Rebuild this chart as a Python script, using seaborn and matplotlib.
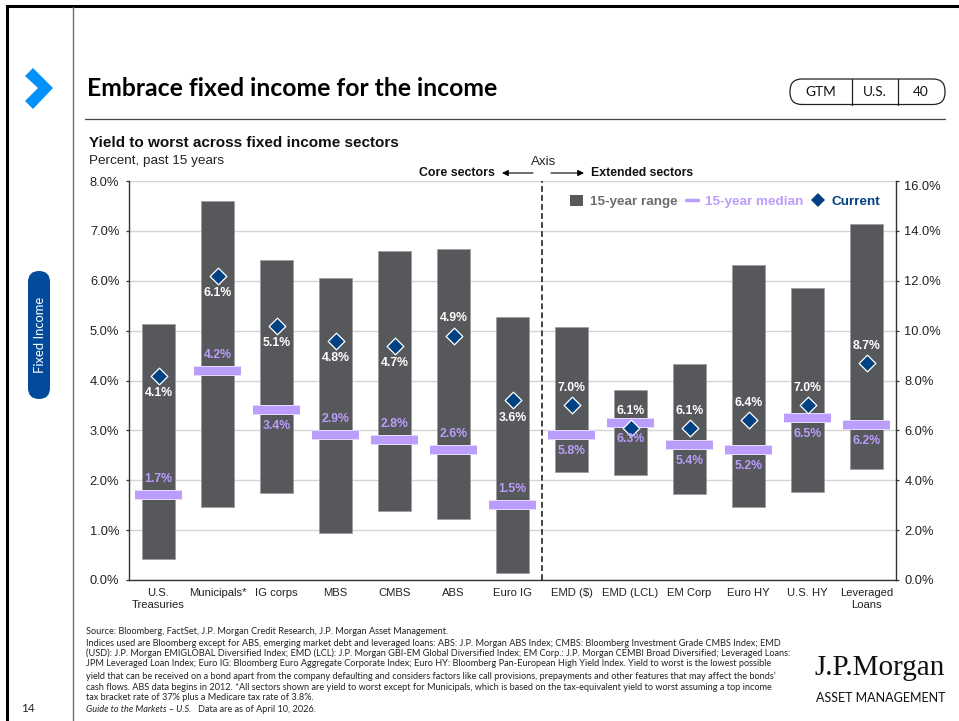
import matplotlib
matplotlib.use("Agg")
import matplotlib.pyplot as plt
import matplotlib.patheffects as pe
from matplotlib.lines import Line2D
from matplotlib.patches import FancyBboxPatch, Patch, Polygon
import numpy as np
import pandas as pd
import seaborn as sns

# Sectors, split by which y axis they are read against
core_sectors = ["U.S.\nTreasuries", "Municipals*", "IG corps", "MBS", "CMBS", "ABS", "Euro IG"]
extended_sectors = ["EMD ($)", "EMD (LCL)", "EM Corp", "Euro HY", "U.S. HY", "Leveraged\nLoans"]

# 15-year yield ranges, percent
core_low = [0.42, 1.46, 1.74, 0.94, 1.38, 1.22, 0.14]
core_high = [5.13, 7.60, 6.41, 6.05, 6.59, 6.63, 5.27]
extended_low = [4.33, 4.20, 3.45, 2.93, 3.53, 4.45]
extended_high = [10.14, 7.60, 8.66, 12.63, 11.70, 14.27]

# Medians and latest readings, percent
core_median = [1.7, 4.2, 3.4, 2.9, 2.8, 2.6, 1.5]
core_current = [4.1, 6.1, 5.1, 4.8, 4.7, 4.9, 3.6]
extended_median = [5.8, 6.3, 5.4, 5.2, 6.5, 6.2]
extended_current = [7.0, 6.1, 6.1, 6.4, 7.0, 8.7]

footnotes = [
    "Source: Bloomberg, FactSet, J.P. Morgan Credit Research, J.P. Morgan Asset Management.",
    "Indices used are Bloomberg except for ABS, emerging market debt and leveraged loans: ABS: J.P. Morgan ABS Index; CMBS: Bloomberg Investment Grade CMBS Index; EMD",
    "(USD): J.P. Morgan EMIGLOBAL Diversified Index; EMD (LCL): J.P. Morgan GBI-EM Global Diversified Index; EM Corp.: J.P. Morgan CEMBI Broad Diversified; Leveraged Loans:",
    "JPM Leveraged Loan Index; Euro IG: Bloomberg Euro Aggregate Corporate Index; Euro HY: Bloomberg Pan-European High Yield Index. Yield to worst is the lowest possible",
    "yield that can be received on a bond apart from the company defaulting and considers factors like call provisions, prepayments and other features that may affect the bonds’",
    "cash flows. ABS data begins in 2012. *All sectors shown are yield to worst except for Municipals, which is based on the tax-equivalent yield to worst assuming a top income",
    "tax bracket rate of 37% plus a Medicare tax rate of 3.8%.",
]

W, H = 959, 721
BAR = "#56585b"
LILAC = "#bb9dfc"
NAVY = "#004184"
GRID = "#d4d4d4"
BLUE = "#0091fa"
ARIAL = "Liberation Sans"
CALIBRI = "Lato"

sns.set_theme(style="white", rc={"axes.grid": False})
plt.rcParams["font.family"] = [ARIAL, "DejaVu Sans"]

fig = plt.figure(figsize=(W / 100, H / 100), dpi=100)
fig.patch.set_facecolor("white")

# Full-page layer measured in pixels for the slide furniture
page = fig.add_axes([0, 0, 1, 1], zorder=0)
page.set_xlim(0, W)
page.set_ylim(H, 0)
page.axis("off")

page.plot([7, 7, W], [H, 6, 6], color="black", lw=2.2, solid_joinstyle="miter")
page.plot([72.5, 72.5], [7, H], color="#6e6e6e", lw=1.0)
page.plot([85, 945], [118.5, 118.5], color="#444444", lw=0.9)
page.add_patch(Polygon([(25, 76), (33, 68), (53, 88), (33, 109), (25, 101), (38, 88)],
                       closed=True, fc=BLUE, ec="none"))
page.add_patch(FancyBboxPatch((28, 271), 22, 128, boxstyle="round,pad=0,rounding_size=11",
                              fc="#024a9b", ec="none"))
page.text(39.5, 335, "Fixed Income", color="white", rotation=90, ha="center", va="center",
          family=CALIBRI, fontsize=9.4)
page.text(28, 709, "14", ha="center", va="center", family=CALIBRI, fontsize=8.6, color="#222222")

page.text(87, 88, "Embrace fixed income for the income", family=CALIBRI, weight="bold",
          fontsize=17.8, va="center", color="black")

# Rounded page tag
page.add_patch(FancyBboxPatch((790, 79), 155, 25.5, boxstyle="round,pad=0,rounding_size=12",
                              fc="white", ec="#222222", lw=0.9))
for divider in (852, 898):
    page.plot([divider, divider], [79, 104.5], color="#222222", lw=0.9)
for x, label in ((821, "GTM"), (875, "U.S."), (921, "40")):
    page.text(x, 92, label, ha="center", va="center", family=CALIBRI, fontsize=9.8, color="#111111")

page.text(89, 143, "Yield to worst across fixed income sectors", weight="bold", fontsize=10.95,
          va="center", color="#111111")
page.text(89, 161, "Percent, past 15 years", fontsize=9.7, va="center", color="#222222")

page.text(544, 162, "Axis", ha="center", va="center", fontsize=9.6, color="#222222")
page.text(495, 172.5, "Core sectors", ha="right", va="center", weight="bold", fontsize=8.9, color="#111111")
page.text(591, 172.5, "Extended sectors", ha="left", va="center", weight="bold", fontsize=8.8, color="#111111")
for start, end in ((533, 502), (551, 584)):
    page.annotate("", xy=(end, 173), xytext=(start, 173),
                  arrowprops=dict(arrowstyle="-|>", color="black", lw=0.8, mutation_scale=9,
                                  shrinkA=0, shrinkB=0))

for i, line in enumerate(footnotes):
    page.text(86, [631, 643, 653, 664, 676, 687, 698][i], line, family=CALIBRI, fontsize=6.62,
              va="center", color="#222222")
page.text(86, 710, "Guide to the Markets – U.S.", family=CALIBRI, fontsize=6.62, style="italic",
          va="center", color="#222222")
page.text(198, 710, "Data are as of April 10, 2026.", family=CALIBRI, fontsize=6.62,
          va="center", color="#222222")

page.text(945, 668, "J.P.Morgan", ha="right", va="center", family="Liberation Serif", fontsize=21,
          color="#111111")
page.text(945, 698, "ASSET MANAGEMENT", ha="right", va="center", family=CALIBRI, fontsize=9.0,
          color="#111111")

# Chart area with the two y scales
ax = fig.add_axes([129 / W, 1 - 580 / H, 767 / W, 399 / H], zorder=2)
ax.patch.set_alpha(0)
ax2 = ax.twinx()
ax2.patch.set_alpha(0)

order = core_sectors + extended_sectors
core = pd.DataFrame({"sector": core_sectors, "low": core_low, "high": core_high,
                     "median": core_median, "current": core_current})
extended = pd.DataFrame({"sector": extended_sectors, "low": extended_low, "high": extended_high,
                         "median": extended_median, "current": extended_current})
core["span"] = core["high"] - core["low"]
extended["span"] = extended["high"] - extended["low"]

# Labels sit above (+1) or below (-1) their mark
core_current_side = [-1, -1, -1, -1, -1, 1, -1]
core_median_side = [1, 1, -1, 1, 1, 1, 1]
extended_current_side = [1, 1, 1, 1, 1, 1]
extended_median_side = [-1, -1, -1, -1, -1, -1]

for axis, frame, cur_side, med_side in (
    (ax, core, core_current_side, core_median_side),
    (ax2, extended, extended_current_side, extended_median_side),
):
    sns.barplot(data=frame, x="sector", y="span", bottom=frame["low"].to_numpy(), order=order, ax=axis,
                color=BAR, saturation=1, width=0.575, edgecolor="#9a9b9d", linewidth=0.5, zorder=3)
    positions = np.array([order.index(s) for s in frame["sector"]])
    axis.hlines(frame["median"], positions - 0.405, positions + 0.405, color=LILAC, lw=6.0, zorder=4,
                path_effects=[pe.Stroke(linewidth=7.2, foreground="#ece4ff"), pe.Normal()])
    sns.scatterplot(data=frame, x="sector", y="current", ax=axis, marker="D", s=72, color=NAVY,
                    edgecolor="white", linewidth=0.9, zorder=6, legend=False)
    for pos, med, cur, cs, ms in zip(positions, frame["median"], frame["current"], cur_side, med_side):
        axis.annotate(f"{cur:.1f}%", (pos, cur), xytext=(0, cs * 12.5), textcoords="offset points",
                      ha="center", va="center", color="white", weight="bold", fontsize=8.8, zorder=7)
        axis.annotate(f"{med:.1f}%", (pos, med), xytext=(0, ms * 11.5), textcoords="offset points",
                      ha="center", va="center", color=LILAC, weight="bold", fontsize=8.8, zorder=7)
    axis.set_xlabel("")
    axis.set_ylabel("")

ax.set_xlim(-0.5, 12.5)
ax2.set_xlim(-0.5, 12.5)
ax.set_ylim(0, 8)
ax2.set_ylim(0, 16)

ax.set_axisbelow(True)
ax.yaxis.grid(True, color=GRID, lw=1.0)
ax.set_yticks(np.arange(0, 9))
ax.set_yticklabels([f"{v:.1f}%" for v in np.arange(0, 9)], fontsize=9.3, color="#222222")
ax2.set_yticks(np.arange(0, 17, 2))
ax2.set_yticklabels([f"{v:.1f}%" for v in np.arange(0, 17, 2)], fontsize=9.3, color="#222222")
ax2.get_yticklabels()[-1].set_verticalalignment("top")

ax.set_xticks(range(len(order)))
ax.set_xticklabels(order, fontsize=8.1, color="#222222", linespacing=1.25)
ax.tick_params(axis="x", which="major", length=0, pad=6)
ax.set_xticks(np.arange(-0.5, 13), minor=True)
ax.tick_params(axis="x", which="minor", length=2, width=0.9, color="#333333", direction="out")
ax.tick_params(axis="y", length=2, width=0.9, color="#333333", pad=5, left=True, direction="out")
ax2.tick_params(axis="y", length=2, width=0.9, color="#333333", pad=4, right=True, direction="out")
ax2.tick_params(axis="x", which="both", length=0, labelbottom=False)

for axis in (ax, ax2):
    for side, spine in axis.spines.items():
        spine.set_color("#333333")
        spine.set_linewidth(1.0)
    axis.spines["top"].set_visible(False)
ax.spines["right"].set_visible(False)
ax2.spines["left"].set_visible(False)
ax2.spines["bottom"].set_visible(False)

# Divider between the core and extended groups
ax2.axvline(6.5, color="#333333", lw=1.3, ls=(0, (3.2, 1.8)), zorder=5)

handles = [
    Patch(fc=BAR, ec="none", label="15-year range"),
    Line2D([], [], color=LILAC, lw=2.5, label="15-year median"),
    Line2D([], [], ls="none", marker="D", ms=7.3, mfc=NAVY, mew=0, label="Current"),
]
legend = ax2.legend(handles=handles, ncol=3, frameon=False, loc="center left",
                    bbox_to_anchor=((570 - 129) / 767, 1 - 20.5 / 399),
                    prop={"weight": "bold", "size": 9.7, "family": ARIAL},
                    handlelength=0.95, handleheight=0.9, handletextpad=0.5, columnspacing=0.62,
                    borderpad=0, borderaxespad=0, labelcolor=["#6d6e71", LILAC, NAVY])
legend.set_zorder(8)

fig.savefig("out.png", dpi=100)
